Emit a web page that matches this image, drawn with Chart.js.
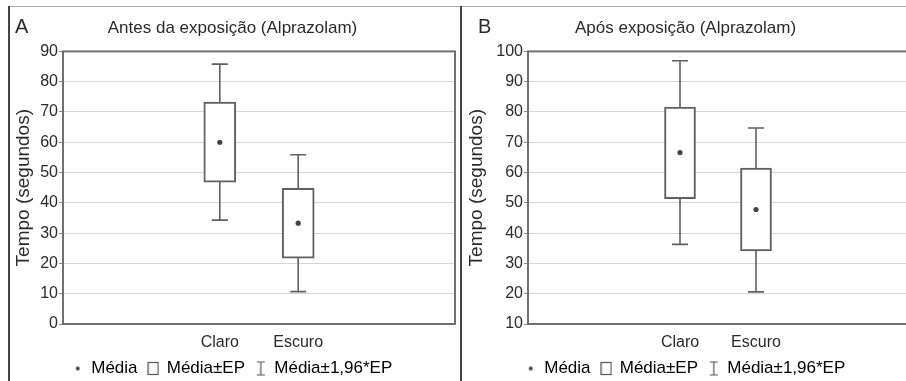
<!DOCTYPE html>
<html lang="pt">
<head>
  <meta charset="UTF-8">
  <title>Tempo de permanência - Alprazolam</title>
  <script src="https://cdn.jsdelivr.net/npm/chart.js"></script>
  <style>
    body { margin: 0; background: #fff; overflow: hidden; }
    #fig { position: relative; width: 906px; height: 381px; overflow: hidden; background: #fff; }
    .line { position: absolute; }
    .panel { position: absolute; top: 8px; }
  </style>
</head>
<body>
  <div id="fig">
    <div class="line" style="left:8px;top:6px;width:898px;height:1px;background:#b0b0b0"></div>
    <div class="line" style="left:8px;top:6px;width:2px;height:375px;background:#444"></div>
    <div class="line" style="left:460px;top:6px;width:2px;height:375px;background:#444"></div>
    <div class="panel" style="left:10px"><canvas id="chartA" width="450" height="381"></canvas></div>
    <div class="panel" style="left:463px"><canvas id="chartB" width="451" height="381"></canvas></div>
  </div>

  <script>
    // dados
    const categorias = ['Claro', 'Escuro'];

    // A - antes da exposição
    const mediaA = [60.0, 33.3];
    const epBaixoA = [46.8, 21.7];
    const epAltoA = [73.3, 44.8];
    const icBaixoA = [34.3, 10.7];
    const icAltoA = [85.8, 55.9];

    // B - após exposição
    const mediaB = [66.6, 47.8];
    const epBaixoB = [51.4, 34.1];
    const epAltoB = [81.6, 61.5];
    const icBaixoB = [36.3, 20.6];
    const icAltoB = [96.9, 74.7];

    const fonte = 'Liberation Sans, Arial, sans-serif';
    const corTexto = '#2a2a2a';
    const corLinha = '#606060';

    // rótulos do eixo x: dois espaços vazios de cada lado
    const rotulosX = ['', ''].concat(categorias, ['', '']);
    function preencher(arr) {
      return [null, null].concat(arr, [null, null]);
    }

    // ícones da legenda
    function iconePonto() {
      const c = document.createElement('canvas');
      c.width = 8; c.height = 8;
      const ctx = c.getContext('2d');
      ctx.fillStyle = '#444';
      ctx.beginPath(); ctx.arc(4, 4, 2, 0, Math.PI * 2); ctx.fill();
      return c;
    }
    function iconeCaixa() {
      const c = document.createElement('canvas');
      c.width = 12; c.height = 15;
      const ctx = c.getContext('2d');
      ctx.strokeStyle = '#555'; ctx.lineWidth = 1.2;
      ctx.strokeRect(1, 1.5, 10, 12);
      return c;
    }
    function iconeBarra() {
      const c = document.createElement('canvas');
      c.width = 10; c.height = 16;
      const ctx = c.getContext('2d');
      ctx.strokeStyle = '#555'; ctx.lineWidth = 1.2;
      ctx.beginPath();
      ctx.moveTo(1, 1.5); ctx.lineTo(9, 1.5);
      ctx.moveTo(5, 1.5); ctx.lineTo(5, 14.5);
      ctx.moveTo(1, 14.5); ctx.lineTo(9, 14.5);
      ctx.stroke();
      return c;
    }
    const icones = [iconePonto(), iconeCaixa(), iconeBarra()];
    const textosLegenda = ['Média ', 'Média±EP ', 'Média±1,96*EP'];

    function criarGrafico(id, letra, letraX, titulo, media, epBaixo, epAlto, icBaixo, icAlto, yMin, yMax, larguraEixo, largCaixa, dir) {
      const bigodes = {
        id: 'bigodes',
        beforeDatasetsDraw(chart) {
          const ctx = chart.ctx;
          const x = chart.scales.x, y = chart.scales.y;
          ctx.save();
          ctx.strokeStyle = corLinha;
          ctx.lineWidth = 1.6;
          for (let i = 0; i < categorias.length; i++) {
            const px = x.getPixelForValue(i + 2);
            const yb = y.getPixelForValue(icBaixo[i]);
            const ya = y.getPixelForValue(icAlto[i]);
            ctx.beginPath();
            ctx.moveTo(px, yb); ctx.lineTo(px, ya);
            ctx.moveTo(px - 8, yb); ctx.lineTo(px + 8, yb);
            ctx.moveTo(px - 8, ya); ctx.lineTo(px + 8, ya);
            ctx.stroke();
          }
          ctx.restore();
        },
        afterDraw(chart) {
          const ctx = chart.ctx;
          const a = chart.chartArea;
          ctx.save();
          ctx.strokeStyle = '#707070';
          ctx.lineWidth = 2;
          ctx.strokeRect(a.left, a.top, a.right - a.left, a.bottom - a.top);
          ctx.fillStyle = corTexto;
          ctx.font = '20px ' + fonte;
          ctx.textBaseline = 'middle';
          ctx.fillText(letra, letraX, 19);
          ctx.restore();
        }
      };

      return new Chart(document.getElementById(id), {
        type: 'bar',
        data: {
          labels: rotulosX,
          datasets: [
            {
              type: 'line',
              label: 'Média',
              data: preencher(media),
              showLine: false,
              pointRadius: 2.6,
              pointBackgroundColor: '#444',
              pointBorderWidth: 0,
              order: 0
            },
            {
              label: 'Média±EP',
              data: preencher(epBaixo.map((v, i) => [v, epAlto[i]])),
              backgroundColor: '#fff',
              borderColor: corLinha,
              borderWidth: 2,
              borderSkipped: false,
              barThickness: largCaixa,
              order: 1
            }
          ]
        },
        options: {
          responsive: false,
          animation: false,
          layout: { padding: { left: 0, right: dir, top: 0, bottom: 2 } },
          plugins: {
            title: {
              display: true,
              text: titulo,
              color: corTexto,
              font: { family: fonte, size: 17, weight: 'normal' },
              padding: { top: 10, bottom: 13 }
            },
            legend: {
              position: 'bottom',
              labels: {
                usePointStyle: true,
                pointStyleWidth: 10,
                padding: 6,
                color: corTexto,
                font: { family: fonte, size: 17 },
                generateLabels: () => textosLegenda.map((t, i) => ({
                  text: t,
                  pointStyle: icones[i],
                  fillStyle: '#fff',
                  strokeStyle: '#555',
                  lineWidth: 0,
                  hidden: false,
                  datasetIndex: i
                }))
              },
              onClick: () => {}
            },
            tooltip: { enabled: false }
          },
          scales: {
            x: {
              offset: false,
              grid: { display: false },
              border: { display: false },
              ticks: {
                color: corTexto,
                font: { family: fonte, size: 16, lineHeight: 1 },
                padding: 3,
                maxRotation: 0,
                autoSkip: false
              }
            },
            y: {
              min: yMin,
              max: yMax,
              afterFit(scale) { scale.width = larguraEixo; },
              border: { display: false },
              grid: { color: '#d6d6d6', lineWidth: 1, tickLength: 4, tickColor: '#888' },
              ticks: {
                stepSize: 10,
                color: corTexto,
                font: { family: fonte, size: 16 },
                padding: 1
              },
              title: {
                display: true,
                text: 'Tempo (segundos)',
                color: corTexto,
                font: { family: fonte, size: 19 },
                padding: { top: 2, bottom: 0 }
              }
            }
          }
        },
        plugins: [bigodes]
      });
    }

    criarGrafico('chartA', 'A', 5, 'Antes da exposição (Alprazolam)',
      mediaA, epBaixoA, epAltoA, icBaixoA, icAltoA, 0, 90, 53, 32, 5);
    criarGrafico('chartB', 'B', 15, 'Após exposição (Alprazolam)',
      mediaB, epBaixoB, epAltoB, icBaixoB, icAltoB, 10, 100, 65, 31, 6);
  </script>
</body>
</html>
